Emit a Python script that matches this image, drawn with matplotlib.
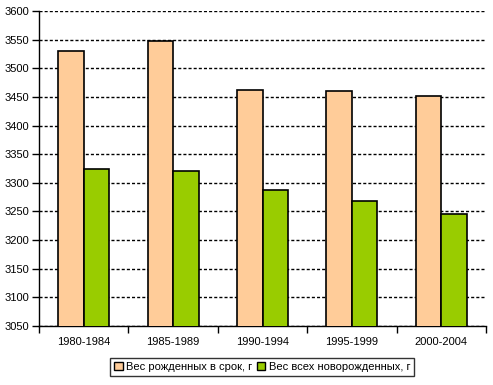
import matplotlib
matplotlib.use("Agg")
import matplotlib.pyplot as plt
import numpy as np
from matplotlib.patches import Patch

plt.rcParams['font.family'] = ['Liberation Sans', 'DejaVu Sans']

categories = ["1980-1984", "1985-1989", "1990-1994", "1995-1999", "2000-2004"]
term_weight = [3531, 3548, 3462, 3460, 3451]
all_weight = [3324, 3320, 3287, 3268, 3245]
series_names = ["Вес рожденных в срок, г", "Вес всех новорожденных, г"]
yticks = list(range(3050, 3601, 50))

fig = plt.figure(figsize=(4.93, 3.85), dpi=100)
ax = fig.add_axes([39/493, 1-326/385, (486-39)/493, (326-11)/385])

x = np.arange(len(categories))
w = 1/3.5
c1 = "#FFCC99"
c2 = "#99CC00"
ax.bar(x - w/2, term_weight, width=w, color=c1, edgecolor="black", linewidth=1.2, zorder=3)
ax.bar(x + w/2, all_weight, width=w, color=c2, edgecolor="black", linewidth=1.2, zorder=3)

ax.set_ylim(3050, 3600)
ax.set_xlim(-0.5, len(categories) - 0.5)
ax.set_yticks(yticks)
ax.set_yticklabels([str(t) for t in yticks], fontsize=8)
ax.yaxis.grid(True, linestyle=(0, (2.2, 1.5)), color="black", linewidth=1, zorder=0)
ax.set_xticks(x)
ax.set_xticklabels(categories, fontsize=8)
ax.tick_params(axis='x', length=0, pad=8)
ax.set_xticks(np.arange(-0.5, len(categories)), minor=True)
ax.tick_params(axis='x', which='minor', length=5, width=1, direction='out')
ax.tick_params(axis='y', length=5, width=1, direction='out', pad=2)
for s in ["top", "right"]:
    ax.spines[s].set_visible(False)
for s in ["left", "bottom"]:
    ax.spines[s].set_linewidth(1)
    ax.spines[s].set_color("black")

handles = [Patch(facecolor=c1, edgecolor="black"), Patch(facecolor=c2, edgecolor="black")]
leg = fig.legend(handles, series_names, loc="center", bbox_to_anchor=(262/493, 1-367/385),
                 ncol=2, fontsize=8, frameon=True, fancybox=False, edgecolor="black",
                 handlelength=0.8, handleheight=0.8, handletextpad=0.3, columnspacing=0.4,
                 borderpad=0.35, borderaxespad=0)
leg.get_frame().set_linewidth(1)

fig.savefig("out.png", dpi=100)
